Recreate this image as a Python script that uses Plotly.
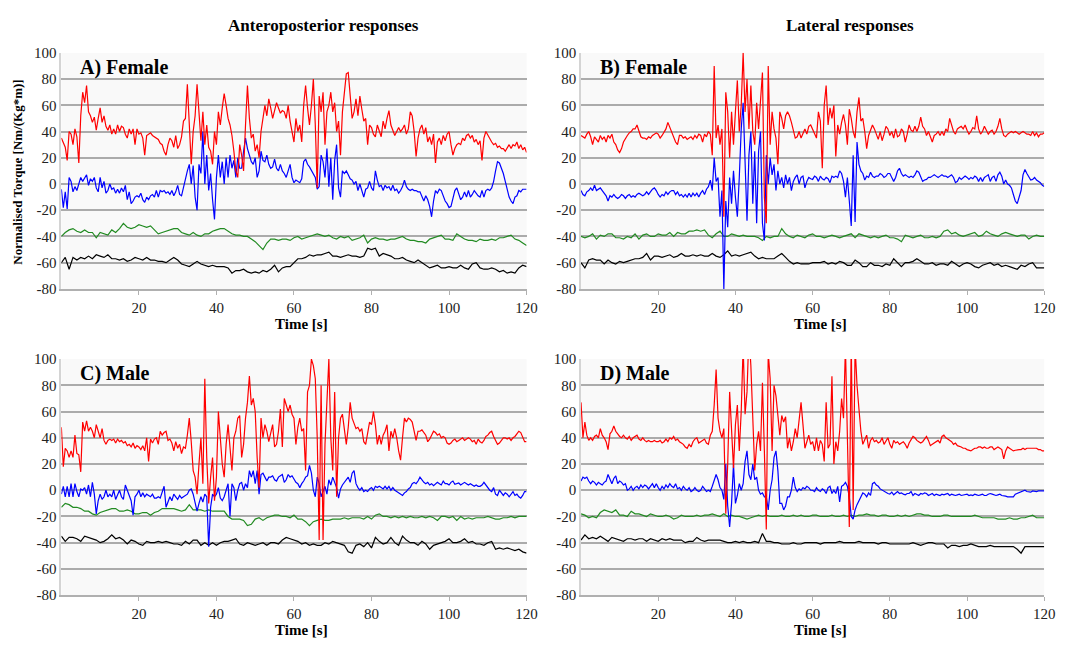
import plotly.graph_objects as go

W, H = 1079, 648

# time bases (seconds)
t_fast = [i / 2 for i in range(241)]   # 0.5 s sampling for red/blue traces
t_slow = list(range(121))              # 1 s sampling for green/black traces

# ---------------- Panel A (Anteroposterior, Female) ----------------
a_red = [
    35, 32, 28, 18, 40, 38, 30, 42, 36, 16, 52, 70, 62, 75, 55, 52, 47, 51, 41, 50,
    58, 47, 52, 44, 41, 45, 38, 42, 38, 45, 40, 44, 43, 38, 35, 42, 38, 42, 30, 42,
    38, 39, 35, 22, 37, 38, 39, 37, 36, 35, 34, 31, 30, 25, 22, 30, 35, 33, 28, 37,
    27, 30, 36, 48, 50, 76, 45, 15, 40, 52, 76, 50, 33, 55, 30, 45, 28, 25, 15, 40,
    30, 55, 45, 58, 69, 60, 50, 45, 37, 25, 10, 5, 30, 22, 10, 45, 75, 50, 35, 38,
    25, 30, 20, 40, 50, 60, 52, 65, 58, 50, 56, 62, 58, 54, 56, 55, 50, 60, 48, 40,
    32, 50, 40, 45, 32, 60, 75, 58, 45, 60, 80, 45, -3, 67, 55, 70, 30, 55, 60, 70,
    55, 62, 40, 48, 22, 55, 70, 84, 85, 68, 50, 55, 65, 52, 67, 57, 48, 50, 30, 45,
    43, 38, 36, 45, 40, 36, 48, 42, 50, 56, 45, 40, 37, 40, 43, 40, 42, 45, 38, 42,
    55, 52, 40, 21, 35, 42, 45, 38, 43, 32, 36, 30, 38, 16, 32, 35, 30, 37, 33, 38,
    40, 30, 22, 27, 30, 31, 30, 35, 33, 37, 38, 35, 37, 32, 34, 30, 33, 18, 35, 40,
    37, 35, 32, 30, 31, 28, 29, 27, 27, 25, 28, 30, 27, 30, 29, 32, 27, 30, 26, 28,
    24,
]
a_blue = [
    -4, -18, -6, -19, 5, 2, -6, -2, -5, 1, 5, 2, 5, 7, -1, 4, 2, 5, -3, -6,
    5, -3, 2, -7, -5, 0, -4, -3, -7, -4, -7, -3, -6, -1, -12, -6, -15, -13, -10, -9,
    -10, -7, -12, -14, -10, -12, -9, -8, -10, -5, -10, -5, -6, -5, -7, -6, -8, -5, -9, -6,
    -1, -8, -9, -2, 5, 10, 15, 0, 14, -10, -20, 15, 8, 40, 0, 22, -5, 8, -12, -27,
    5, 22, 5, 17, 0, 20, 5, 22, 12, 18, 5, 20, 12, 12, 25, 35, 27, 22, 17, 15,
    20, 5, 10, 25, 18, 17, 22, 15, 12, 13, 19, 12, 10, 15, 10, 8, 5, 10, 15, 5,
    1, 3, 2, 1, 4, 17, 19, 15, 13, 10, 7, 5, -4, -2, 22, 17, 5, 27, -2, 20,
    -12, 18, 30, -3, -10, 10, 8, 10, 7, 4, 3, 0, 2, -5, 0, -6, -10, -4, -3, 2,
    -3, -5, 10, 3, -2, -1, -5, -1, -3, -2, -5, -1, -5, -4, -7, -5, -2, 3, -2, -4,
    -5, -4, -5, -5, -6, -6, -10, -13, -9, -12, -17, -25, -13, -5, -7, -4, -5, -9, -13, -15,
    -18, -17, -12, -5, -3, -7, -12, -10, -6, -10, -5, -10, -8, -5, -7, -9, -10, -5, -10, -5,
    -4, -5, -3, 2, 10, 17, 16, 12, 8, 2, -5, -10, -13, -15, -10, -9, -5, -6, -4, -4,
    -4,
]
a_green = [
    -40, -37, -35, -34, -36, -37, -35, -37, -37, -41,
    -37, -38, -39, -35, -37, -34, -30, -33, -34, -33,
    -31, -32, -33, -32, -35, -38, -37, -36, -35, -34,
    -34, -37, -38, -39, -37, -39, -40, -38, -38, -36,
    -35, -34, -34, -36, -38, -39, -39, -40, -40, -42,
    -44, -47, -50, -45, -42, -42, -43, -42, -42, -43,
    -41, -40, -42, -41, -40, -39, -38, -39, -40, -39,
    -41, -42, -40, -41, -40, -43, -42, -41, -39, -45,
    -42, -41, -42, -42, -43, -42, -42, -41, -40, -42,
    -43, -43, -44, -44, -45, -42, -41, -40, -39, -42,
    -42, -43, -38, -40, -42, -43, -43, -44, -42, -43,
    -43, -42, -43, -41, -41, -40, -39, -42, -43, -45,
    -47,
]
a_black = [
    -60, -56, -65, -56, -58, -56, -57, -55, -57, -54,
    -55, -56, -54, -57, -57, -58, -57, -59, -58, -56,
    -57, -58, -56, -58, -58, -59, -59, -60, -58, -56,
    -58, -61, -62, -63, -61, -59, -61, -62, -63, -62,
    -63, -63, -63, -64, -68, -66, -66, -65, -67, -68,
    -67, -68, -66, -67, -65, -62, -67, -64, -63, -63,
    -60, -57, -57, -56, -54, -55, -54, -54, -53, -52,
    -55, -55, -56, -55, -54, -55, -55, -56, -55, -49,
    -50, -49, -55, -53, -54, -55, -57, -57, -56, -58,
    -59, -60, -58, -60, -62, -64, -63, -62, -64, -64,
    -63, -64, -64, -62, -64, -65, -61, -60, -64, -65,
    -65, -64, -65, -67, -66, -68, -67, -68, -64, -62,
    -63,
]

# ---------------- Panel B (Lateral, Female) ----------------
b_red = [
    37, 36, 35, 38, 40, 36, 30, 36, 34, 32, 37, 34, 36, 32, 37, 35, 38, 32, 30, 26,
    24, 27, 32, 35, 37, 39, 40, 42, 42, 45, 40, 36, 35, 35, 34, 36, 35, 37, 38, 39,
    38, 35, 37, 40, 42, 47, 43, 39, 36, 32, 30, 37, 37, 35, 36, 34, 35, 36, 34, 37,
    35, 38, 37, 32, 38, 36, 40, 38, 22, 90, 35, 45, 30, 42, -25, 70, 55, 20, 55, 30,
    55, 79, 40, 60, 100, 55, 80, 42, 75, 40, 30, 62, 42, 60, 85, -10, -30, 90, 30, 55,
    42, 35, 15, 55, 50, 42, 52, 55, 52, 47, 42, 35, 36, 40, 35, 38, 42, 38, 44, 45,
    42, 38, 35, 55, 48, 12, 60, 75, 45, 58, 50, 60, 21, 45, 38, 47, 53, 45, 30, 57,
    50, 40, 35, 55, 66, 48, 50, 40, 27, 37, 42, 45, 42, 37, 34, 40, 33, 38, 44, 42,
    37, 40, 35, 42, 36, 37, 42, 40, 32, 38, 45, 41, 40, 44, 40, 44, 51, 44, 42, 37,
    40, 36, 32, 37, 38, 40, 37, 40, 37, 42, 40, 50, 45, 40, 38, 42, 43, 44, 42, 45,
    41, 38, 40, 43, 42, 52, 42, 38, 40, 44, 41, 38, 40, 41, 38, 40, 44, 50, 42, 37,
    36, 38, 39, 40, 39, 40, 39, 38, 39, 40, 39, 38, 38, 37, 40, 37, 39, 36, 38, 38,
    39,
]
b_blue = [
    -5, -8, -9, -6, -5, -3, -5, -1, -5, -4, -3, -5, -7, -9, -13, -9, -10, -8, -10, -11,
    -10, -8, -9, -11, -9, -8, -10, -9, -10, -8, -7, -8, -9, -8, -6, -8, -6, -4, -3, -5,
    -8, -10, -8, -9, -6, -8, -6, -5, -5, -8, -6, -9, -8, -10, -8, -10, -7, -10, -7, -9,
    -7, -10, -7, -5, -8, -4, -2, 3, -5, 20, 2, 5, -25, -5, -80, -13, -33, 5, -15, 10,
    -10, -25, 5, 42, 62, 10, -28, 22, 40, -15, 25, -30, 25, 40, -30, -43, 22, 0, 20, 7,
    15, -5, 10, 0, 5, -3, 7, 0, 5, -5, 2, 5, 7, 0, 5, 6, -3, 2, 5, 4,
    3.5, 6, 5, 2, 6, 4, 3, 5, 4, 1, 6, 5, 6, 5, 10, 8, 2, -10, 5, -13,
    -32, 22, -29, 32, 15, 10, 8, 3, 6, 5, 9, 6, 5, 6, 6, 8, 7, 5, 6, 8,
    8, 5, 2, 5, 10, 12, 8, 6, 7, 6, 5, 6, 5, 7, 10, 9, 5, 2, 3, 3.5,
    5, 5, 6, 7, 6, 5, 6, 7, 6, 6, 5, 6, 7, 5, 1, 2, 5, 3.5, 5, 6,
    5, 3.5, 5, 4, 6, 5, 2, 5, 2, 5, 6, 7, 2, 5, 6, 2, 7, 9, 6, 0,
    3, 0, -1, -3, -8, -13, -15, -10, -5, 7, 11, 8, 5, 3, 3.5, 5, 3, 2, 1, -1,
    -2,
]
b_green = [
    -40, -41, -40, -38, -42, -39, -40, -38, -38, -41,
    -41, -42, -40, -41, -38, -42, -39, -38, -40, -40,
    -38, -39, -39, -37, -40, -37, -38, -38, -36, -36,
    -35, -36, -35, -39, -41, -38, -36, -40, -40, -38,
    -39, -40, -39, -40, -40, -40, -41, -43, -40, -41,
    -40, -40, -34, -38, -40, -41, -39, -40, -41, -39,
    -38, -40, -40, -41, -40, -39, -40, -41, -40, -39,
    -38, -41, -38, -39, -40, -41, -40, -41, -40, -39,
    -41, -41, -42, -44, -39, -40, -41, -40, -39, -41,
    -41, -40, -41, -40, -36, -35, -38, -37, -39, -40,
    -39, -38, -37, -40, -39, -36, -38, -39, -40, -38,
    -37, -38, -39, -40, -39, -39, -42, -40, -39, -40,
    -40,
]
b_black = [
    -60, -64, -58, -57, -58, -58, -61, -58, -60, -61,
    -59, -60, -59, -58, -57, -57, -56, -53, -58, -55,
    -55, -56, -55, -54, -56, -55, -53, -55, -55, -54,
    -55, -54, -55, -55, -53, -55, -56, -54, -51, -55,
    -54, -55, -54, -53, -52, -55, -57, -56, -57, -57,
    -57, -55, -53, -56, -59, -61, -60, -61, -61, -61,
    -60, -60, -60, -59, -61, -60, -61, -59, -60, -62,
    -62, -58, -60, -63, -63, -60, -62, -62, -63, -61,
    -62, -57, -60, -63, -60, -60, -59, -57, -59, -61,
    -61, -60, -62, -61, -61, -62, -59, -61, -63, -61,
    -60, -61, -63, -64, -62, -61, -60, -62, -61, -63,
    -62, -63, -64, -65, -62, -63, -61, -60, -64, -64,
    -64,
]

# ---------------- Panel C (Anteroposterior, Male) ----------------
c_red = [
    48, 18, 32, 30, 25, 30, 25, 42, 28, 27, 14, 52, 45, 53, 45, 48, 45, 40, 50, 45,
    40, 47, 38, 35, 38, 39, 38, 39, 36, 39, 37, 38, 36, 37, 34, 35, 33, 36, 32, 34,
    33, 31, 34, 30, 40, 22, 39, 36, 39, 40, 35, 45, 42, 44, 45, 38, 39, 36, 30, 37,
    32, 35, 28, 33, 32, 42, 55, 37, 15, 10, -3, 20, 40, 5, 85, 25, -10, 10, 25, -8,
    10, 60, 42, 20, 10, 35, 50, 32, 15, 40, 45, 55, 57, 25, 35, 55, 67, 87, 65, 70,
    60, 25, 2, 55, 40, 50, 45, 37, 45, 50, 33, 35, 45, 62, 33, 70, 65, 60, 65, 58,
    55, 35, 48, 55, 45, 47, 15, 75, 80, 100, 95, 85, 40, -38, 80, -38, 35, 70, 100, 40,
    15, 75, -5, 40, 55, 58, 45, 35, 48, 67, 55, 50, 47, 48, 45, 47, 37, 35, 44, 52,
    50, 60, 50, 35, 42, 35, 42, 45, 50, 30, 45, 40, 47, 40, 30, 23, 40, 55, 52, 55,
    54, 52, 45, 38, 45, 45, 46, 44, 42, 37, 39, 42, 45, 44, 42, 43, 40, 41, 40, 36,
    35, 36, 38, 39, 37, 38, 39, 40, 38, 39, 40, 39, 37, 38, 35, 39, 37, 36, 38, 41,
    42, 44, 45, 41, 38, 35, 36, 38, 40, 40, 39, 40, 38, 40, 41, 43, 45, 44, 40, 37,
    37,
]
c_blue = [
    -3, 3, -5, 3, -5, 5, -5, 5, -1, -5, 1, 0, 2, -3, 4, -5, 6, -3, -18, -8,
    -3, -7, -5, 0, -5, -3, -5, 0, -7, -3, 0, -5, -7, 4, 0, -5, -8, -19, -5, -3,
    0, -5, -2, -5, -3, -4, -5, -3, -6, -6, -5, -6, -1, 3, -13, -8, -5, -8, -3, -5,
    -7, -4, -6, -5, -4, -3, 0, 1, -3, -10, -16, -10, -5, -9, -3, -5, -43, -13, -3, -5,
    -3, 2, -6, -8, -5, 0, 5, -20, 5, 2, -8, 0, 5, 6, 0, 5, 2, 15, 10, 15,
    5, 15, -3, 12, 13, 10, 7, 10, 10, 11, 8, 7, 10, 11, 12, 6, 8, 12, 10, 11,
    8, 6, 5, 2, 5, 7, 10, 11, 19, 13, 0, -5, 10, 5, -5, 0, 3, -3, 8, 4,
    10, 6, 2, -6, 1, 4, 6, 8, 10, 6, 13, 15, 5, 2, 0, 2, -1, 0, -1, 1,
    2, 0, 3, 2, 3, 2, 1, 3, 1, 3, 0, 2, 0, -1, -2, -3, -4, -2, -1, 1,
    2, 5, 6, 5, 7, 10, 8, 6, 5, 6, 4, 5, 3.5, 5, 6, 5, 4, 7, 5, 5,
    4, 6, 7, 4.5, 5, 5.5, 4, 5, 6, 5, 4, 5, 4, 3, 4, 3, 3, 4, 6, 4,
    2, 0, -1, 2, -3, -4, 0, -2, -4, -2, -3, -5, -3, -1, -4, -3, -5, -6, -4, -1,
    -1,
]
c_green = [
    -13, -10, -11, -13, -13, -14, -16, -16, -18, -19,
    -17, -16, -15, -14, -14, -16, -16, -15, -16, -18,
    -18, -17, -17, -19, -17, -16, -14, -14, -14, -14,
    -15, -16, -15, -11, -15, -15, -15, -16, -15, -16,
    -16, -16, -16, -20, -22, -22, -22, -23, -27, -26,
    -22, -21, -23, -21, -20, -19, -19, -20, -20, -21,
    -19, -22, -22, -24, -27, -24, -23, -22, -23, -23,
    -22, -22, -22, -21, -22, -21, -21, -21, -22, -20,
    -22, -19, -18, -20, -20, -21, -20, -21, -20, -21,
    -20, -21, -21, -20, -21, -20, -21, -23, -20, -20,
    -21, -20, -23, -20, -22, -21, -22, -21, -21, -21,
    -20, -21, -22, -22, -21, -21, -20, -21, -20, -20,
    -20,
]
c_black = [
    -35, -39, -36, -36, -37, -39, -35, -36, -37, -38,
    -40, -39, -37, -34, -37, -36, -38, -41, -38, -39,
    -41, -42, -39, -40, -40, -39, -40, -39, -40, -41,
    -41, -42, -39, -41, -38, -38, -42, -40, -42, -40,
    -42, -40, -39, -39, -38, -37, -41, -42, -40, -41,
    -42, -41, -40, -42, -40, -40, -41, -38, -36, -37,
    -38, -39, -41, -40, -42, -41, -42, -42, -40, -41,
    -39, -40, -41, -42, -47, -48, -42, -41, -43, -40,
    -44, -36, -39, -41, -40, -36, -40, -42, -35, -38,
    -40, -40, -42, -39, -41, -45, -42, -41, -40, -39,
    -37, -40, -40, -39, -37, -40, -39, -41, -41, -42,
    -40, -39, -45, -44, -45, -44, -45, -46, -45, -47,
    -48,
]

# ---------------- Panel D (Lateral, Male) ----------------
d_red = [
    67, 40, 52, 42, 38, 40, 38, 41, 42, 40, 47, 42, 40, 37, 31, 43, 45, 49, 45, 43,
    41, 40, 42, 40, 39, 41, 38, 40, 41, 42, 39, 38, 40, 38, 37, 38, 37, 37, 38, 37,
    37, 38, 36, 37, 39, 37, 40, 39, 41, 38, 39, 37, 36, 35, 33, 32, 35, 33, 37, 39,
    40, 36, 37, 38, 39, 36, 35, 42, 45, 65, 92, 55, 45, 40, 47, -18, 20, 75, 50, 17,
    50, 65, 30, 60, 110, 58, 75, 120, 95, 60, 15, 35, 45, 30, 82, 30, -30, 105, 85, 30,
    80, 72, 55, 42, 57, 52, 56, 32, 40, 30, 37, 47, 40, 55, 67, 50, 32, 37, 42, 35,
    37, 30, 40, 30, 38, 35, 22, 67, 32, 35, 87, 20, 37, 30, 45, 70, 55, 110, 30, -28,
    115, -15, 110, 80, 62, 45, 35, 38, 42, 32, 38, 40, 37, 38, 36, 37, 40, 35, 38, 40,
    35, 32, 38, 36, 37, 35, 36, 37, 35, 32, 36, 39, 41, 40, 38, 37, 36, 37, 39, 41,
    38, 34, 35, 36, 37, 38, 36, 41, 42, 40, 39, 38, 37, 35, 36, 34, 33.6, 33, 32, 32,
    31, 30.5, 30, 31, 32, 32, 33, 33, 32, 33, 32, 32, 33, 33, 31, 32, 33, 32, 31, 24,
    30, 33, 32, 31, 30, 30.5, 31, 31, 31, 32, 31, 32, 32, 32, 32, 32, 32, 31, 31, 30,
    30,
]
d_blue = [
    7, 10, 9, 10, 7, 5, 7, 6, 4, 6, 5, 4, 6, 7, 12, 8, 5, 9, 11, 5,
    7, 6, 4, 5, 0, 1, 3, 0, 2, 3, 1, 4, 2, 4, 3, 1, 3, 5, 2, 5,
    2, 0, 3, 1, 4, 2, 5, 3, 2, 5, 1, 2, 0, 3, 1, 0, 2, -1, 0, 2,
    0, -1, 0, 3, 1, -1, 0, -1, 3, 8, 12, 8, 2, 0, -7, 20, -12, -28, -10, 20,
    -10, -4, 5, 0, 5, 22, 30, 12, 8, 20, 8, 10, 0, -3, -2, -5, -5, -15, 0, 8,
    25, 30, 15, -10, -10, -15, -12, -5, -5, 0, 10, 2, -1, 1, 0, 2, 1, 3, 2, 0,
    0, -1, 2, 0, -1, 1, 0, -2.5, 2, 3, -2.5, 0, -2.5, 3, -9, 3, 4, 6, 3, -5,
    -20, -22, -15, -11, -8, -4, -2, -3, -5, -2, -4, 5, 6, 4, 3, 1, 0, -1, -1.5, -2.5,
    -3, -1.5, -3.5, -2.5, -1, -2.5, -2, -3, -3.5, -2.5, -2.5, -1, -4, -2.5, -3, -4, -2.5, -3, -2, -2.5,
    -4, -3, -2.5, -4, -3, -3.5, -4, -3, -3.5, -3, -2.5, -4, -3, -3.5, -4, -3.5, -3, -4, -3.5, -3,
    -3, -4, -3.5, -4, -3, -3.5, -4, -3.5, -3, -4, -4, -3, -2.5, -3, -3.5, -4, -3.5, -3, -4, -4,
    -4.5, -5, -5, -5.5, -5, -3, -2.5, -1.5, -1.5, -1, 0, -1, -1, -1.5, -0.5, -1, -1, -0.5, -0.5, -0.5,
    -0.5,
]
d_green = [
    -18, -19, -21, -20, -21, -17, -15, -16, -17, -15,
    -19, -19, -20, -16, -18, -18, -19, -20, -18, -19,
    -20, -20, -19, -20, -22, -21, -19, -20, -20, -20,
    -19, -20, -19, -19, -18, -19, -20, -18, -20, -19,
    -20, -20, -21, -22, -21, -20, -19, -20, -19, -20,
    -20, -20, -19, -20, -20, -19, -20, -19, -20, -20,
    -19, -19, -20, -20, -20, -19, -20, -20, -19, -20,
    -19, -20, -19, -19, -18, -19, -19, -20, -19, -19,
    -20, -20, -19, -20, -19, -20, -19, -18, -18, -19,
    -19, -20, -20, -20, -19, -19, -20, -20, -20, -20,
    -20, -20, -19, -20, -21, -21, -21, -21, -22, -22,
    -22, -21, -22, -22, -21, -21, -20, -19, -21, -21,
    -21,
]
d_black = [
    -38, -34, -37, -36, -37, -35, -37, -39, -36, -37,
    -38, -39, -37, -37, -38, -37, -37, -39, -37, -38,
    -39, -37, -38, -37, -38, -38, -38, -40, -39, -39,
    -36, -38, -39, -38, -38, -38, -38, -39, -40, -40,
    -39, -40, -39, -40, -40, -39, -40, -33, -39, -39,
    -40, -40, -41, -41, -41, -40, -41, -41, -40, -40,
    -40, -40, -41, -40, -40, -40, -40, -39, -40, -40,
    -40, -40, -39, -40, -40, -40, -40, -41, -40, -40,
    -41, -41, -41, -41, -41, -41, -40, -41, -42, -41,
    -40, -40, -41, -41, -41, -44, -42, -42, -43, -42,
    -42, -41, -42, -43, -43, -43, -42, -43, -43, -43,
    -43, -43, -43, -45, -48, -43, -43, -43, -43, -43,
    -43,
]

# axis ticks / labels
x_ticks = [20, 40, 60, 80, 100, 120]
y_ticks = [-80, -60, -40, -20, 0, 20, 40, 60, 80, 100]
panel_labels = ["A) Female", "B) Female", "C) Male", "D) Male"]
column_titles = ["Anteroposterior responses", "Lateral responses"]
y_title = "Normalised Torque [Nm/(Kg*m)]"
x_title = "Time [s]"

# sanity check of series lengths
for name, arr, n in [
    ("a_red", a_red, 241), ("a_blue", a_blue, 241), ("a_green", a_green, 121), ("a_black", a_black, 121),
    ("b_red", b_red, 241), ("b_blue", b_blue, 241), ("b_green", b_green, 121), ("b_black", b_black, 121),
    ("c_red", c_red, 241), ("c_blue", c_blue, 241), ("c_green", c_green, 121), ("c_black", c_black, 121),
    ("d_red", d_red, 241), ("d_blue", d_blue, 241), ("d_green", d_green, 121), ("d_black", d_black, 121),
]:
    assert len(arr) == n, (name, len(arr))

SERIF = "Liberation Serif"
COL = dict(red="#ff0000", blue="#0000ff", green="#228b22", black="#000000")

# panel pixel boxes: (left, right, top, bottom)
boxes = [(62, 532, 46, 288), (587, 1055, 46, 288), (62, 532, 360, 602), (587, 1055, 360, 602)]
data = [
    (a_black, a_green, a_blue, a_red),
    (b_black, b_green, b_blue, b_red),
    (c_black, c_green, c_blue, c_red),
    (d_black, d_green, d_blue, d_red),
]

fig = go.Figure()
layout = {}
annotations = []

for i, ((x0, x1, y0, y1), (blk, grn, blu, rd), lab) in enumerate(zip(boxes, data, panel_labels), start=1):
    sfx = "" if i == 1 else str(i)
    xa, ya = "x" + sfx, "y" + sfx
    for t, vals, c in [(t_slow, blk, "black"), (t_slow, grn, "green"),
                       (t_fast, blu, "blue"), (t_fast, rd, "red")]:
        fig.add_trace(go.Scatter(x=t, y=vals, mode="lines",
                                 line=dict(color=COL[c], width=1.2),
                                 xaxis=xa, yaxis=ya, showlegend=False,
                                 hoverinfo="skip"))
    layout["xaxis" + sfx] = dict(
        domain=[x0 / W, x1 / W], anchor=ya, range=[0, 120],
        tickmode="array", tickvals=x_ticks, ticktext=[str(v) for v in x_ticks],
        showgrid=False, zeroline=False, showline=True, linecolor="#b0b0b0", linewidth=1.5,
        ticks="outside", ticklen=4, tickcolor="#b0b0b0", tickwidth=1,
        tickfont=dict(family=SERIF, size=15, color="#222222"),
        fixedrange=True,
    )
    layout["yaxis" + sfx] = dict(
        domain=[1 - y1 / H, 1 - y0 / H], anchor=xa, range=[-80, 100],
        tickmode="array", tickvals=y_ticks, ticktext=[str(v) for v in y_ticks],
        showgrid=True, gridcolor="#ababab", gridwidth=1.5, zeroline=False,
        showline=True, linecolor="#d4d4d4", linewidth=1.5, ticks="",
        tickfont=dict(family=SERIF, size=15, color="#222222"),
        fixedrange=True,
    )
    # panel letter label
    annotations.append(dict(
        text="<b>%s</b>" % lab, xref="paper", yref="paper",
        x=(x0 + 17) / W, y=1 - (y0 + 15) / H, xanchor="left", yanchor="middle",
        showarrow=False, font=dict(family=SERIF, size=20, color="#000000")))
    # x axis title
    annotations.append(dict(
        text="<b>%s</b>" % x_title, xref="paper", yref="paper",
        x=((x0 + x1) / 2 + 8) / W, y=1 - (y1 + 36) / H, xanchor="center", yanchor="middle",
        showarrow=False, font=dict(family=SERIF, size=15, color="#000000")))

# column titles
for title, cx in zip(column_titles, [327, 859]):
    annotations.append(dict(
        text="<b>%s</b>" % title, xref="paper", yref="paper",
        x=cx / W, y=1 - 18 / H, xanchor="center", yanchor="middle",
        showarrow=False, font=dict(family=SERIF, size=17, color="#000000")))

# y axis title (only on panel A)
annotations.append(dict(
    text="<b>%s</b>" % y_title, xref="paper", yref="paper",
    x=18 / W, y=1 - 168 / H, xanchor="center", yanchor="middle", textangle=-90,
    showarrow=False, font=dict(family=SERIF, size=13, color="#000000")))

fig.update_layout(
    width=W, height=H, autosize=False,
    margin=dict(l=0, r=0, t=0, b=0, pad=0),
    paper_bgcolor="#ffffff", plot_bgcolor="#f9f9f9",
    annotations=annotations, showlegend=False,
    **layout,
)

fig.write_html("out.html", config={"displayModeBar": False})
